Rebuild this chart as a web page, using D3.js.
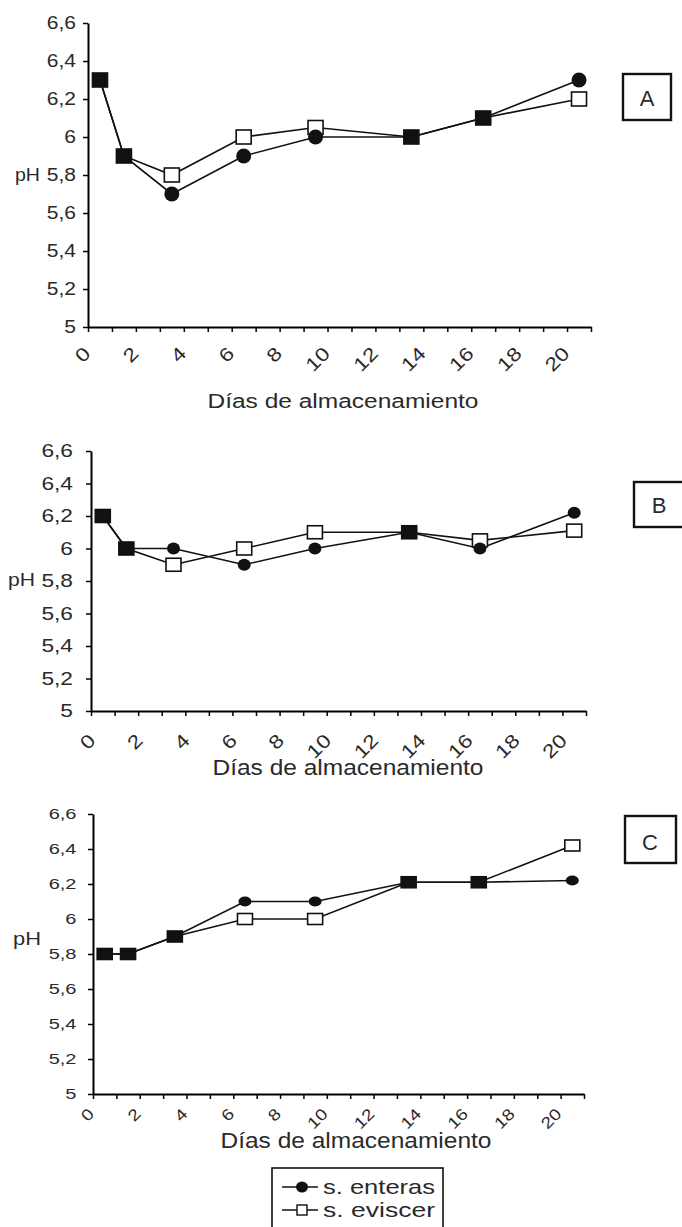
<!DOCTYPE html>
<html>
<head>
<meta charset="utf-8">
<script src="https://cdn.jsdelivr.net/npm/d3@7"></script>
<style>
  body { margin: 0; background: #fff; }
  text { font-family: "Liberation Sans", Arial, sans-serif; fill: #2a2a2a; }
</style>
</head>
<body>
<svg id="fig" width="682" height="1227"></svg>
<script>
// datos
const dias = d3.range(0, 21)                       // categorías del eje x (0..20)
const diasMuestreo = [0, 1, 3, 6, 9, 13, 16, 20]
const etiquetasX = [0, 2, 4, 6, 8, 10, 12, 14, 16, 18, 20]
const ticksPH = [5, 5.2, 5.4, 5.6, 5.8, 6, 6.2, 6.4, 6.6]
const series = ["s. enteras", "s. eviscer"]

const enterasA = [6.3, 5.9, 5.7, 5.9, 6.0, 6.0, 6.1, 6.3]
const evisceA  = [6.3, 5.9, 5.8, 6.0, 6.05, 6.0, 6.1, 6.2]
const enterasB = [6.2, 6.0, 6.0, 5.9, 6.0, 6.1, 6.0, 6.22]
const evisceB  = [6.2, 6.0, 5.9, 6.0, 6.1, 6.1, 6.05, 6.11]
const enterasC = [5.8, 5.8, 5.9, 6.1, 6.1, 6.21, 6.21, 6.22]
const evisceC  = [5.8, 5.8, 5.9, 6.0, 6.0, 6.21, 6.21, 6.42]

// disposición de cada panel
const paneles = [
  { letra: "A", ent: enterasA, evi: evisceA, x0: 88, x1: 591, yTop: 23, yBot: 327,
    fTick: 17.5, kTick: 1.2, gapY: 12, fX: 19, dxX: -1, dyX: 23,
    ph: { x: 15, y: 175, f: 18, w: 25 },
    titulo: { x: 343, y: 408, f: 20, w: 271 },
    caja: { x: 623, y: 74, w: 48, h: 46, lx: 647, ly: 98 },
    sq: [15, 14], ci: [15, 15] },
  { letra: "B", ent: enterasB, evi: evisceB, x0: 91, x1: 586, yTop: 451, yBot: 711,
    fTick: 17.5, kTick: 1.3, gapY: 18, fX: 19, dxX: 1, dyX: 26,
    ph: { x: 8, y: 580, f: 18, w: 27 },
    titulo: { x: 348, y: 775, f: 22, w: 271 },
    caja: { x: 634, y: 482, w: 80, h: 45, lx: 659, ly: 505 },
    sq: [15, 13], ci: [13, 12] },
  { letra: "C", ent: enterasC, evi: evisceC, x0: 93, x1: 584, yTop: 814, yBot: 1094,
    fTick: 14.5, kTick: 1.38, gapY: 16.5, fX: 16, dxX: -2, dyX: 17,
    ph: { x: 13, y: 938, f: 19, w: 28 },
    titulo: { x: 356, y: 1148, f: 22, w: 271 },
    caja: { x: 625, y: 816, w: 51, h: 47, lx: 650, ly: 842 },
    sq: [15, 11], ci: [13, 10] }
]

const svg = d3.select("#fig")

// estira el texto a lo ancho (la figura original está escaneada más ancha)
function estirar(sel, k) {
  sel.each(function() {
    const w = this.getComputedTextLength()
    d3.select(this).attr("textLength", w * k).attr("lengthAdjust", "spacingAndGlyphs")
  })
}

const coma = d => String(d).replace(".", ",")

paneles.forEach(p => {
  const g = svg.append("g")
  const x = d3.scaleBand().domain(dias).range([p.x0, p.x1])
  const xLin = d3.scaleLinear().domain([0, dias.length]).range([p.x0, p.x1])
  const y = d3.scaleLinear().domain([5, 6.6]).range([p.yBot, p.yTop])
  const xc = d => x(d) + x.bandwidth() / 2

  // eje y
  const ejeY = g.append("g")
    .attr("transform", `translate(${p.x0},0)`)
    .call(d3.axisLeft(y).tickValues(ticksPH).tickFormat(coma).tickSize(5).tickSizeOuter(0))
  ejeY.attr("font-family", null)
  ejeY.select(".domain").attr("stroke-width", 2)
  ejeY.selectAll("line").attr("stroke-width", 1.5)
  ejeY.selectAll("text")
    .attr("x", -p.gapY)
    .attr("font-size", p.fTick)
    .call(estirar, p.kTick)

  // eje x
  const ejeX = g.append("g")
    .attr("transform", `translate(0,${p.yBot})`)
    .call(d3.axisBottom(xLin).tickValues(d3.range(0, dias.length + 1)).tickFormat("").tickSize(5).tickSizeOuter(0))
  ejeX.select(".domain").attr("stroke-width", 2)
  ejeX.selectAll("line").attr("stroke-width", 1.5)

  g.append("g").selectAll("text")
    .data(etiquetasX)
    .join("text")
    .attr("text-anchor", "end")
    .attr("dy", "0.35em")
    .attr("font-size", p.fX)
    .attr("transform", d => `translate(${xLin(d) + p.dxX},${p.yBot + p.dyX}) rotate(-45)`)
    .text(d => d)
    .call(estirar, 1.2)

  // títulos
  g.append("text")
    .attr("x", p.ph.x).attr("y", p.ph.y).attr("dy", "0.35em")
    .attr("font-size", p.ph.f)
    .attr("textLength", p.ph.w).attr("lengthAdjust", "spacingAndGlyphs")
    .text("pH")
  g.append("text")
    .attr("x", p.titulo.x - p.titulo.w / 2).attr("y", p.titulo.y)
    .attr("font-size", p.titulo.f)
    .attr("textLength", p.titulo.w).attr("lengthAdjust", "spacingAndGlyphs")
    .text("Días de almacenamiento")

  // series
  const ent = diasMuestreo.map((d, i) => ({ dia: d, v: p.ent[i] }))
  const evi = diasMuestreo.map((d, i) => ({ dia: d, v: p.evi[i], igual: p.evi[i] === p.ent[i] }))
  const linea = d3.line().x(d => xc(d.dia)).y(d => y(d.v))

  g.append("path").datum(ent).attr("d", linea)
    .attr("fill", "none").attr("stroke", "#111").attr("stroke-width", 1.6)
  g.append("path").datum(evi).attr("d", linea)
    .attr("fill", "none").attr("stroke", "#111").attr("stroke-width", 1.6)

  g.append("g").selectAll("rect")
    .data(evi)
    .join("rect")
    .attr("x", d => xc(d.dia) - p.sq[0] / 2)
    .attr("y", d => y(d.v) - p.sq[1] / 2)
    .attr("width", p.sq[0]).attr("height", p.sq[1])
    .attr("fill", d => d.igual ? "#111" : "#fff")
    .attr("stroke", "#111").attr("stroke-width", 1.6)

  g.append("g").selectAll("ellipse")
    .data(ent.filter((d, i) => !evi[i].igual))
    .join("ellipse")
    .attr("cx", d => xc(d.dia)).attr("cy", d => y(d.v))
    .attr("rx", p.ci[0] / 2).attr("ry", p.ci[1] / 2)
    .attr("fill", "#111")

  // caja con la letra
  g.append("rect")
    .attr("x", p.caja.x).attr("y", p.caja.y)
    .attr("width", p.caja.w).attr("height", p.caja.h)
    .attr("fill", "none").attr("stroke", "#111").attr("stroke-width", 2.4)
  g.append("text")
    .attr("x", p.caja.lx).attr("y", p.caja.ly).attr("dy", "0.36em")
    .attr("text-anchor", "middle").attr("font-size", 22)
    .text(p.letra)
})

// leyenda
const ley = svg.append("g")
ley.append("rect")
  .attr("x", 272).attr("y", 1168).attr("width", 171).attr("height", 80)
  .attr("fill", "none").attr("stroke", "#111").attr("stroke-width", 1.6)
const filas = ley.selectAll("g.fila")
  .data(series)
  .join("g")
  .attr("class", "fila")
  .attr("transform", (d, i) => `translate(0,${1187 + i * 23})`)
filas.append("line")
  .attr("x1", 282).attr("x2", 318)
  .attr("stroke", "#111").attr("stroke-width", 1.6)
filas.filter((d, i) => i === 0).append("ellipse")
  .attr("cx", 302).attr("rx", 6).attr("ry", 5.5).attr("fill", "#111")
filas.filter((d, i) => i === 1).append("rect")
  .attr("x", 297).attr("y", -5).attr("width", 10).attr("height", 10)
  .attr("fill", "#fff").attr("stroke", "#111").attr("stroke-width", 1.4)
filas.append("text")
  .attr("x", 323).attr("dy", "0.35em")
  .attr("font-size", 21)
  .attr("textLength", 112).attr("lengthAdjust", "spacingAndGlyphs")
  .text(d => d)
</script>
</body>
</html>
